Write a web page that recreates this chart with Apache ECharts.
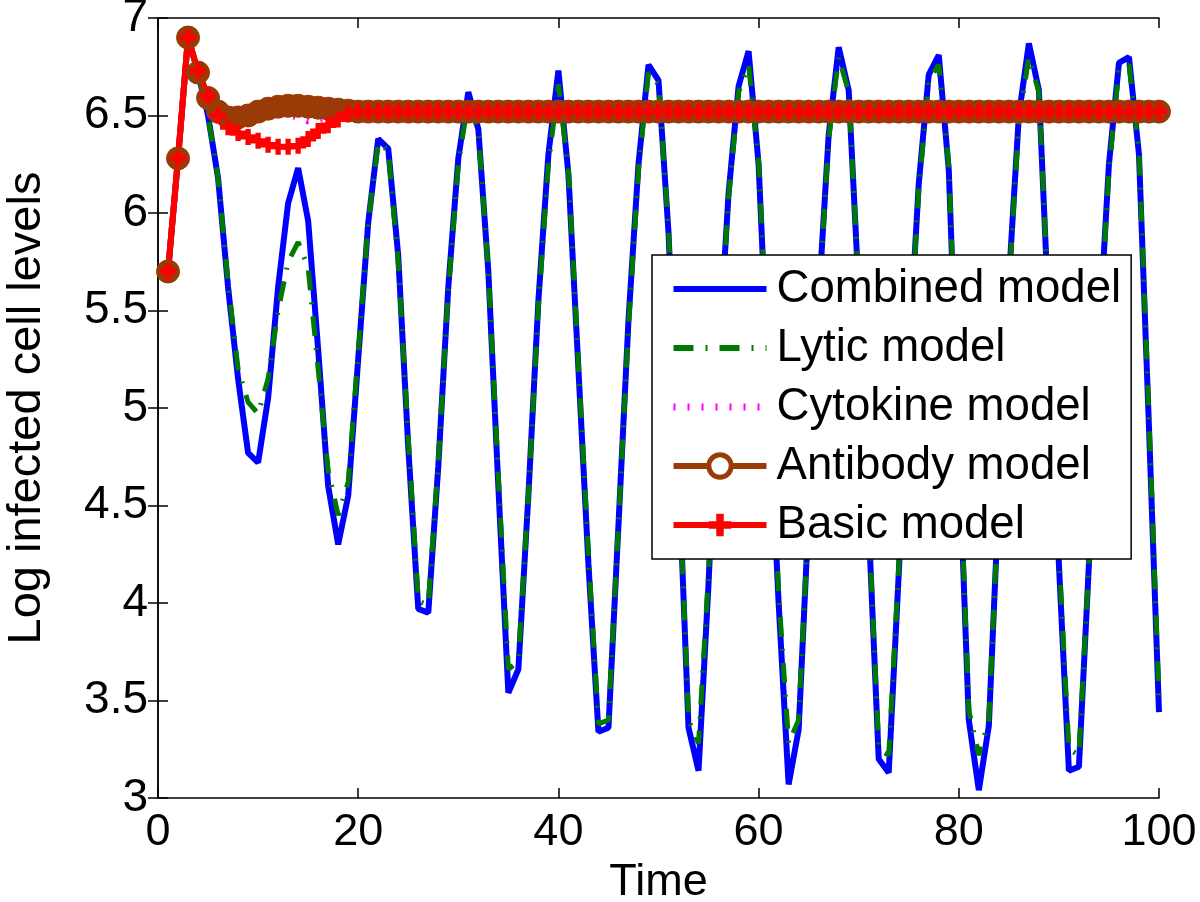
<!DOCTYPE html>
<html>
<head>
<meta charset="utf-8">
<script src="https://cdn.jsdelivr.net/npm/echarts@6/dist/echarts.min.js"></script>
<style>
html,body{margin:0;padding:0;background:#fff;}
#chart{width:1200px;height:902px;}
</style>
</head>
<body>
<div id="chart"></div>
<script>
var time = [1,2,3,4,5,6,7,8,9,10,11,12,13,14,15,16,17,18,19,20,
21,22,23,24,25,26,27,28,29,30,31,32,33,34,35,36,37,38,39,40,
41,42,43,44,45,46,47,48,49,50,51,52,53,54,55,56,57,58,59,60,
61,62,63,64,65,66,67,68,69,70,71,72,73,74,75,76,77,78,79,80,
81,82,83,84,85,86,87,88,89,90,91,92,93,94,95,96,97,98,99,100];

var combined = [5.70,6.28,6.90,6.72,6.50,6.18,5.62,5.15,4.77,4.72,
5.05,5.62,6.05,6.23,5.96,5.30,4.60,4.30,4.55,5.25,
5.95,6.38,6.33,5.78,4.80,3.97,3.95,4.70,5.62,6.28,
6.62,6.43,5.70,4.60,3.54,3.66,4.55,5.55,6.30,6.73,
6.20,5.20,4.20,3.34,3.36,4.40,5.45,6.25,6.76,6.68,
5.90,4.70,3.36,3.14,4.10,5.25,6.10,6.65,6.83,6.25,
5.10,4.00,3.07,3.35,4.45,5.55,6.40,6.85,6.63,5.60,
4.40,3.20,3.13,4.15,5.25,6.15,6.71,6.81,6.22,4.80,
3.40,3.04,3.37,4.55,5.65,6.50,6.87,6.63,5.45,4.20,
3.14,3.16,4.20,5.35,6.25,6.77,6.80,6.30,4.90,3.44];

var lytic = [5.70,6.28,6.90,6.72,6.50,6.18,5.64,5.20,5.03,4.97,
5.15,5.50,5.75,5.85,5.72,5.20,4.68,4.45,4.62,5.28,
5.95,6.36,6.32,5.75,4.85,4.01,3.99,4.72,5.60,6.25,
6.58,6.42,5.70,4.65,3.66,3.70,4.55,5.52,6.25,6.66,
6.22,5.22,4.25,3.38,3.40,4.40,5.42,6.22,6.72,6.66,
5.92,4.72,3.40,3.28,4.15,5.25,6.08,6.62,6.76,6.27,
5.15,4.05,3.28,3.40,4.45,5.52,6.38,6.80,6.62,5.62,
4.42,3.25,3.22,4.18,5.25,6.12,6.68,6.76,6.24,4.85,
3.45,3.22,3.40,4.55,5.62,6.47,6.80,6.62,5.48,4.25,
3.25,3.22,4.20,5.32,6.22,6.74,6.76,6.32,4.95,3.50];

var cytokine = [5.70,6.28,6.90,6.73,6.60,6.52,6.50,6.49,6.49,6.50,
6.51,6.51,6.50,6.49,6.47,6.48,6.49,6.50,6.51,6.52,
6.52,6.52,6.52,6.52,6.52,6.52,6.52,6.52,6.52,6.52,
6.52,6.52,6.52,6.52,6.52,6.52,6.52,6.52,6.52,6.52,
6.52,6.52,6.52,6.52,6.52,6.52,6.52,6.52,6.52,6.52,
6.52,6.52,6.52,6.52,6.52,6.52,6.52,6.52,6.52,6.52,
6.52,6.52,6.52,6.52,6.52,6.52,6.52,6.52,6.52,6.52,
6.52,6.52,6.52,6.52,6.52,6.52,6.52,6.52,6.52,6.52,
6.52,6.52,6.52,6.52,6.52,6.52,6.52,6.52,6.52,6.52,
6.52,6.52,6.52,6.52,6.52,6.52,6.52,6.52,6.52,6.52];

var antibody = [5.70,6.28,6.90,6.72,6.59,6.52,6.49,6.49,6.50,6.52,
6.535,6.545,6.55,6.55,6.545,6.54,6.535,6.53,6.525,6.52,
6.52,6.52,6.52,6.52,6.52,6.52,6.52,6.52,6.52,6.52,
6.52,6.52,6.52,6.52,6.52,6.52,6.52,6.52,6.52,6.52,
6.52,6.52,6.52,6.52,6.52,6.52,6.52,6.52,6.52,6.52,
6.52,6.52,6.52,6.52,6.52,6.52,6.52,6.52,6.52,6.52,
6.52,6.52,6.52,6.52,6.52,6.52,6.52,6.52,6.52,6.52,
6.52,6.52,6.52,6.52,6.52,6.52,6.52,6.52,6.52,6.52,
6.52,6.52,6.52,6.52,6.52,6.52,6.52,6.52,6.52,6.52,
6.52,6.52,6.52,6.52,6.52,6.52,6.52,6.52,6.52,6.52];

var basic = [5.70,6.28,6.90,6.73,6.60,6.50,6.44,6.41,6.39,6.37,
6.35,6.34,6.34,6.345,6.38,6.42,6.45,6.48,6.51,6.52,
6.52,6.52,6.52,6.52,6.52,6.52,6.52,6.52,6.52,6.52,
6.52,6.52,6.52,6.52,6.52,6.52,6.52,6.52,6.52,6.52,
6.52,6.52,6.52,6.52,6.52,6.52,6.52,6.52,6.52,6.52,
6.52,6.52,6.52,6.52,6.52,6.52,6.52,6.52,6.52,6.52,
6.52,6.52,6.52,6.52,6.52,6.52,6.52,6.52,6.52,6.52,
6.52,6.52,6.52,6.52,6.52,6.52,6.52,6.52,6.52,6.52,
6.52,6.52,6.52,6.52,6.52,6.52,6.52,6.52,6.52,6.52,
6.52,6.52,6.52,6.52,6.52,6.52,6.52,6.52,6.52,6.52];

var seriesNames = ['Combined model','Lytic model','Cytokine model','Antibody model','Basic model'];
var xTitle = 'Time';
var yTitle = 'Log infected cell levels';

function pairs(arr){ return time.map(function(t,i){ return [t, arr[i]]; }); }

var FONT = "'Liberation Sans', Arial, Helvetica, sans-serif";
var BROWN = '#9a3a06';
var GREEN = '#007a00';
var PLUS = 'path://M4,0 L8,0 L8,4 L12,4 L12,8 L8,8 L8,12 L4,12 L4,8 L0,8 L0,4 L4,4 Z';

var chart = echarts.init(document.getElementById('chart'), null, {renderer:'canvas'});
var axisLine = {show:true, lineStyle:{color:'#000', width:1.5}};
var tick = {show:true, inside:true, length:10, lineStyle:{color:'#000', width:1.5}};
chart.setOption({
  animation:false,
  backgroundColor:'#fff',
  grid:{left:158, right:41, top:18, bottom:104, containLabel:false, outerBoundsMode:'none'},
  xAxis:[{
    type:'value', min:0, max:100, interval:20,
    name:xTitle, nameLocation:'middle', nameGap:60,
    nameTextStyle:{fontSize:45, fontFamily:FONT, color:'#000'},
    axisLine:axisLine, axisTick:tick, splitLine:{show:false},
    axisLabel:{fontSize:45, fontFamily:FONT, color:'#000', margin:12}
  },{
    type:'value', min:0, max:100, interval:20, position:'top',
    axisLine:axisLine, axisTick:tick, splitLine:{show:false}, axisLabel:{show:false}
  }],
  yAxis:[{
    type:'value', min:3, max:7, interval:0.5,
    name:yTitle, nameLocation:'middle', nameGap:107,
    nameTextStyle:{fontSize:47, fontFamily:FONT, color:'#000'},
    axisLine:axisLine, axisTick:tick, splitLine:{show:false},
    axisLabel:{fontSize:46, fontFamily:FONT, color:'#000', margin:10}
  },{
    type:'value', min:3, max:7, interval:0.5, position:'right',
    axisLine:axisLine, axisTick:tick, splitLine:{show:false}, axisLabel:{show:false}
  }],
  legend:{
    orient:'vertical', left:652, top:255,
    padding:[11,10,11,18],
    backgroundColor:'#fff', borderColor:'#000', borderWidth:1.5,
    itemWidth:93, itemHeight:28, itemGap:13,
    textStyle:{fontSize:45.6, fontFamily:FONT, color:'#000', padding:[0,0,0,5], lineHeight:46},
    data:[
      {name:seriesNames[0], itemStyle:{opacity:0}, lineStyle:{width:6}},
      {name:seriesNames[1], itemStyle:{opacity:0}, lineStyle:{width:6}},
      {name:seriesNames[2], itemStyle:{opacity:0}, lineStyle:{width:7}},
      {name:seriesNames[3], itemStyle:{color:'#fff', borderColor:BROWN, borderWidth:5}, lineStyle:{width:6}},
      {name:seriesNames[4], lineStyle:{width:6}}
    ]
  },
  series:[
    {name:seriesNames[0], type:'line', data:pairs(combined), symbol:'none',
     lineStyle:{color:'#0000ff', width:6}, itemStyle:{color:'#0000ff'}},
    {name:seriesNames[1], type:'line', data:pairs(lytic), symbol:'none',
     lineStyle:{color:GREEN, width:5, type:[20,12,2,12]}, itemStyle:{color:GREEN}},
    {name:seriesNames[2], type:'line', data:pairs(cytokine), symbol:'none',
     lineStyle:{color:'#ff00ff', width:6, type:[2,12]}, itemStyle:{color:'#ff00ff'}},
    {name:seriesNames[3], type:'line', data:pairs(antibody), symbol:'circle', symbolSize:23, showAllSymbol:true,
     lineStyle:{color:BROWN, width:6}, itemStyle:{color:BROWN, borderColor:BROWN, borderWidth:1}},
    {name:seriesNames[4], type:'line', data:pairs(basic), symbol:PLUS, symbolSize:16, showAllSymbol:true,
     lineStyle:{color:'#ff0000', width:6}, itemStyle:{color:'#ff0000'}}
  ]
});
</script>
</body>
</html>
